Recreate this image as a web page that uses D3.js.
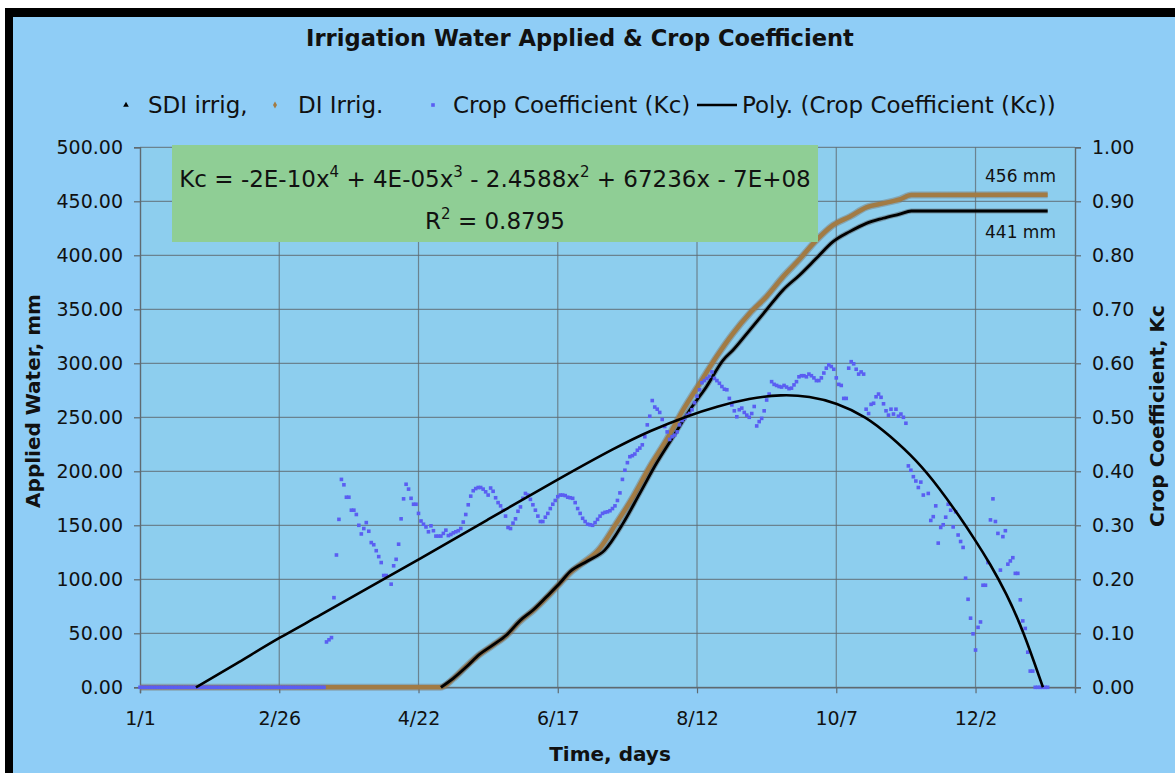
<!DOCTYPE html>
<html><head><meta charset="utf-8">
<script src="https://cdn.jsdelivr.net/npm/d3@7"></script>
<style>
body{margin:0;background:#fff;}
svg{display:block;font-family:"DejaVu Sans",Verdana,sans-serif;}
</style>
</head><body>
<svg id="chart" width="1175" height="773"></svg>
<script>
// ---------------- DATA ----------------
const chartTitle = "Irrigation Water Applied & Crop Coefficient";
const xTickDays = [0, 56, 112, 168, 224, 280, 336];
const xTickLabels = ["1/1", "2/26", "4/22", "6/17", "8/12", "10/7", "12/2"];
const yLeftTicks = [0, 50, 100, 150, 200, 250, 300, 350, 400, 450, 500];
const yRightTicks = [0, 0.1, 0.2, 0.3, 0.4, 0.5, 0.6, 0.7, 0.8, 0.9, 1.0];
const seriesNames = ["SDI irrig,", "DI Irrig.", "Crop Coefficient (Kc)", "Poly. (Crop Coefficient (Kc))"];

// SDI irrigation (cumulative mm) by day of year
const sdiDays = [121, 126, 131.3, 136.7, 142, 147.4, 152.8, 158.1, 163.5, 168.8, 172.9, 180, 186.9, 194.3, 201, 207.7, 214.4, 221.1, 227.8, 234.5, 238.5, 245.2, 251.9, 258.6, 265.3, 272, 278.7, 285.4, 292.1, 298.8, 305.5, 310.2, 365];
const sdiMM   = [0, 8.3, 19, 30.8, 39.2, 48.4, 61.7, 71.6, 83.9, 96.3, 107, 117, 127, 152, 179.6, 207.4, 232, 256.8, 278.3, 303, 312.3, 330.8, 349.4, 367.9, 381.8, 397.2, 412.6, 421.9, 429.6, 434.3, 438.2, 441, 441];

// DI irrigation (cumulative mm)
const diDays = [0, 121, 126, 131, 136.7, 142, 147.4, 152.8, 158.1, 163.5, 168.8, 172.9, 178, 184.3, 191.6, 198.3, 205, 211.7, 218.4, 225.1, 231.8, 238.5, 245.2, 251.9, 258.6, 265.3, 272, 278.7, 285.4, 292.1, 298.8, 305.5, 310.2, 365];
const diMM   = [0, 0, 8, 19, 30.5, 39, 48, 61, 71, 83, 96, 106, 115, 127, 152, 176.5, 204.3, 229, 256.8, 281.5, 306, 327.8, 346.3, 361.7, 380.2, 396.5, 414, 428, 435.7, 444.4, 448.1, 451.8, 455.8, 456];

// Crop coefficient, one value per day (index = day of year, null = no point)
const kcDaily = [
0,0,0,0,0,0,0,0,0,0, 0,0,0,0,0,0,0,0,0,0, 0,0,0,0,0,0,0,0,0,0, 0,0,0,0,0,0,0,0,0,0,
0,0,0,0,0,0,0,0,0,0, 0,0,0,0,0,0,0,0,0,0, 0,0,0,0,0,0,0,0,0,0, 0,0,0,0,0,
0.084,0.088,0.092,0.166,0.245,0.311,0.385,0.375,0.352,0.352,
0.328,0.328,0.320,0.300,0.284,0.294,0.305,0.289,0.268,0.264,
0.253,0.242,0.231,0.207,0.207,null,0.191,0.225,0.237,0.265,
0.312,0.349,0.376,0.367,0.350,0.339,0.339,0.322,0.308,0.302,
0.297,0.288,0.299,0.290,0.280,0.280,0.280,0.285,0.291,0.281,
0.283,0.286,0.288,0.290,0.294,0.306,0.320,0.338,0.354,0.364,
0.368,0.370,0.370,0.367,0.362,0.356,0.369,0.363,0.351,0.342,
0.336,0.328,0.317,0.296,0.294,0.304,0.312,0.326,0.334,0.350,
0.359,0.356,0.348,0.338,0.328,0.317,0.307,0.307,0.315,0.322,
0.331,0.339,0.346,0.353,0.356,0.356,0.355,0.352,0.351,0.350,
0.342,0.331,0.322,0.313,0.307,0.302,0.301,0.300,0.305,0.311,
0.317,0.322,0.324,0.325,0.327,0.331,0.336,0.346,0.360,0.385,
0.402,0.416,0.427,0.429,0.432,0.439,0.443,0.449,0.464,0.486,
0.502,0.531,0.519,0.515,0.509,0.496,0.483,0.473,0.459,0.464,
0.467,0.473,0.486,0.494,0.498,0.504,0.507,0.514,0.527,0.539,
0.551,0.564,0.568,0.572,0.576,0.584,0.572,0.568,0.563,0.557,
0.552,0.551,0.535,0.523,0.512,0.501,0.514,0.517,0.509,0.504,
0.500,0.507,0.520,0.484,0.492,0.498,0.512,0.532,0.543,0.566,
0.561,0.559,0.557,0.556,0.559,0.556,0.553,0.554,0.560,0.566,
0.575,0.577,0.577,0.575,0.580,0.577,0.573,0.568,0.568,0.573,
0.582,0.591,0.597,0.594,0.589,0.573,0.561,0.559,0.535,0.535,
0.591,0.603,0.599,0.589,0.580,0.584,0.580,0.515,0.507,0.524,
0.526,0.538,0.543,0.537,0.525,0.512,0.504,0.515,0.506,0.515,
0.502,0.506,0.500,0.489,0.410,0.402,0.390,0.382,0.370,0.380,
0.356,null,0.359,0.309,0.316,0.336,0.267,0.296,0.301,0.315,
0.339,0.328,0.297,0.325,0.282,0.270,0.259,0.202,0.163,0.128,
0.099,0.069,0.111,0.121,0.189,0.189,0.231,0.310,0.349,0.307,
0.285,0.217,0.279,0.290,0.228,0.234,0.240,0.211,0.211,0.162,
0.123,0.109,0.065,0.030,0.030,0,0,0,0,0,0
];

// Polynomial trendline of Kc
const polyDays = [22.5, 40, 56, 72.4, 90, 112, 140, 168, 191.6, 205, 220.4, 231.8, 245, 258, 269.3, 280, 292.1, 301.5, 312.2, 321.6, 329.6, 335.8, 341.7, 348.4, 355.1, 363.1];
const polyKc   = [0, 0.047, 0.092, 0.133, 0.180, 0.236, 0.311, 0.385, 0.445, 0.475, 0.503, 0.520, 0.535, 0.5425, 0.539, 0.527, 0.501, 0.466, 0.421, 0.368, 0.316, 0.273, 0.230, 0.174, 0.106, 0];

const eqParts = ["Kc = -2E-10x", "4", " + 4E-05x", "3", " - 2.4588x", "2", " + 67236x - 7E+08"];
const r2Parts = ["R", "2", " = 0.8795"];
const endLabels = ["456 mm", "441 mm"];
const endLabelValues = [456, 441];
const yLeftTitle = "Applied Water, mm";
const yRightTitle = "Crop Coefficient, Kc";
const xTitle = "Time, days";

// ---------------- LAYOUT ----------------
const W = 1175, H = 773;
const plot = {left: 140, right: 1075, top: 147.3, bottom: 687.3};
const colors = {
  outer: "#8fcdf6", plot: "#8dceee", grid: "#5f6a70", di: "#a27b44", sdi: "#000000",
  kc: "#5a5ef2", box: "#8fce95"
};

const svg = d3.select("#chart");
// frame
svg.append("rect").attr("x", 0).attr("y", 0).attr("width", W).attr("height", H).attr("fill", "#ffffff");
svg.append("rect").attr("x", 5).attr("y", 8).attr("width", W - 5).attr("height", H - 8).attr("fill", "#000");
svg.append("rect").attr("x", 13).attr("y", 17).attr("width", W - 13).attr("height", H - 17).attr("fill", colors.outer);

const x = d3.scaleLinear().domain([0, 376]).range([plot.left, plot.right]);
const yL = d3.scaleLinear().domain([0, 500]).range([plot.bottom, plot.top]);
const yR = d3.scaleLinear().domain([0, 1]).range([plot.bottom, plot.top]);

svg.append("rect").attr("x", plot.left).attr("y", plot.top)
  .attr("width", plot.right - plot.left).attr("height", plot.bottom - plot.top)
  .attr("fill", colors.plot);

// gridlines
const grid = svg.append("g").attr("stroke", colors.grid).attr("stroke-width", 1.2).attr("stroke-opacity", 0.75);
grid.selectAll("line.h").data(yLeftTicks).join("line")
  .attr("x1", plot.left).attr("x2", plot.right)
  .attr("y1", d => yL(d)).attr("y2", d => yL(d));
grid.selectAll("line.v").data(xTickDays.slice(1)).join("line")
  .attr("y1", plot.top).attr("y2", plot.bottom)
  .attr("x1", d => x(d)).attr("x2", d => x(d));

// axes
const fontTick = 19;
const axL = svg.append("g").attr("transform", `translate(${plot.left},0)`)
  .call(d3.axisLeft(yL).tickValues(yLeftTicks).tickFormat(d3.format(".2f")).tickSize(6).tickPadding(11));
const axR = svg.append("g").attr("transform", `translate(${plot.right},0)`)
  .call(d3.axisRight(yR).tickValues(yRightTicks).tickFormat(d3.format(".2f")).tickSize(6).tickPadding(11));
const axB = svg.append("g").attr("transform", `translate(0,${plot.bottom})`)
  .call(d3.axisBottom(x).tickValues(xTickDays).tickFormat((d, i) => xTickLabels[i]).tickSize(6).tickPadding(18));
[axL, axR, axB].forEach(a => {
  a.select(".domain").attr("stroke", colors.grid).attr("stroke-width", 1.4);
  a.selectAll(".tick line").attr("stroke", colors.grid).attr("stroke-width", 1.2);
  a.selectAll("text").attr("font-size", fontTick).attr("font-family", "DejaVu Sans").attr("fill", "#111");
});

// cumulative series
const lineL = d3.line().x(d => x(d[0])).y(d => yL(d[1])).curve(d3.curveMonotoneX);
const diPts = diDays.map((d, i) => [d, diMM[i]]);
const sdiPts = sdiDays.map((d, i) => [d, sdiMM[i]]);
svg.append("path").datum(diPts).attr("d", lineL).attr("fill", "none")
  .attr("stroke", "#7d7468").attr("stroke-opacity", 0.45).attr("stroke-width", 7).attr("stroke-linejoin", "round");
svg.append("path").datum(diPts).attr("d", lineL).attr("fill", "none")
  .attr("stroke", colors.di).attr("stroke-width", 4.5).attr("stroke-linejoin", "round");
svg.append("path").datum(sdiPts).attr("d", lineL).attr("fill", "none")
  .attr("stroke", "#555").attr("stroke-opacity", 0.45).attr("stroke-width", 5).attr("stroke-linejoin", "round");
svg.append("path").datum(sdiPts).attr("d", lineL).attr("fill", "none")
  .attr("stroke", colors.sdi).attr("stroke-width", 2.8).attr("stroke-linejoin", "round");

// Kc points
const kcPts = kcDaily.map((v, i) => [i, v]).filter(d => d[1] !== null);
const ms = 3.6;
svg.append("g").selectAll("rect").data(kcPts).join("rect")
  .attr("x", d => x(d[0]) - ms / 2).attr("y", d => yR(d[1]) - ms / 2)
  .attr("width", ms).attr("height", ms).attr("fill", colors.kc);

// Poly trendline
const polyPts = polyDays.map((d, i) => [d, polyKc[i]]);
svg.append("path").datum(polyPts)
  .attr("d", d3.line().x(d => x(d[0])).y(d => yR(d[1])).curve(d3.curveBasis))
  .attr("fill", "none").attr("stroke", "#000").attr("stroke-width", 2.6);

// equation box
svg.append("rect").attr("x", 172).attr("y", 145).attr("width", 646).attr("height", 97).attr("fill", colors.box);
const eqFont = 23;
function supText(parts, yPos) {
  const t = svg.append("text").attr("x", 495).attr("y", yPos).attr("text-anchor", "middle")
    .attr("font-size", eqFont).attr("fill", "#111");
  parts.forEach((p, i) => {
    const sup = i % 2 === 1;
    t.append("tspan").text(p).attr("font-size", sup ? 15 : eqFont).attr("dy", sup ? -10 : (i > 0 ? 10 : 0));
  });
}
supText(eqParts, 187);
supText(r2Parts, 229);

// end labels
svg.selectAll("text.endlab").data(endLabels).join("text").attr("class", "endlab")
  .attr("x", 985).attr("y", (d, i) => i === 0 ? yL(endLabelValues[i]) - 13 : yL(endLabelValues[i]) + 27)
  .attr("font-size", 17).attr("fill", "#111").text(d => d);

// title
svg.append("text").attr("x", 580).attr("y", 46).attr("text-anchor", "middle")
  .attr("font-size", 22.6).attr("font-weight", "bold").attr("fill", "#111").text(chartTitle);

// axis titles
svg.append("text").attr("transform", "translate(40,401) rotate(-90)").attr("text-anchor", "middle")
  .attr("font-size", 20).attr("font-weight", "bold").attr("fill", "#111").text(yLeftTitle);
svg.append("text").attr("transform", "translate(1164,416) rotate(-90)").attr("text-anchor", "middle")
  .attr("font-size", 20).attr("font-weight", "bold").attr("fill", "#111").text(yRightTitle);
svg.append("text").attr("x", 610).attr("y", 761).attr("text-anchor", "middle")
  .attr("font-size", 20).attr("font-weight", "bold").attr("fill", "#111").text(xTitle);

// legend
const legFont = 23, legY = 105;
const legKeyX = [106, 255, 413, 697];   // start of each 40px key area
const legTextX = [148, 298, 453, 742];
const leg = svg.append("g");
seriesNames.forEach((name, i) => {
  const kx = legKeyX[i] + 20;
  if (i === 0) {
    leg.append("path").attr("d", d3.symbol(d3.symbolTriangle, 14)()).attr("transform", `translate(${kx},${legY})`).attr("fill", "#000");
  } else if (i === 1) {
    leg.append("path").attr("d", d3.symbol(d3.symbolDiamond, 14)()).attr("transform", `translate(${kx},${legY})`).attr("fill", colors.di);
  } else if (i === 2) {
    leg.append("rect").attr("x", kx - ms / 2).attr("y", legY - ms / 2).attr("width", ms).attr("height", ms).attr("fill", colors.kc);
  } else {
    leg.append("line").attr("x1", legKeyX[i]).attr("x2", legKeyX[i] + 40).attr("y1", legY).attr("y2", legY).attr("stroke", "#000").attr("stroke-width", 2.6);
  }
  leg.append("text").attr("x", legTextX[i]).attr("y", legY + 8).attr("font-size", legFont).attr("fill", "#111").text(name);
});
</script>
</body></html>
